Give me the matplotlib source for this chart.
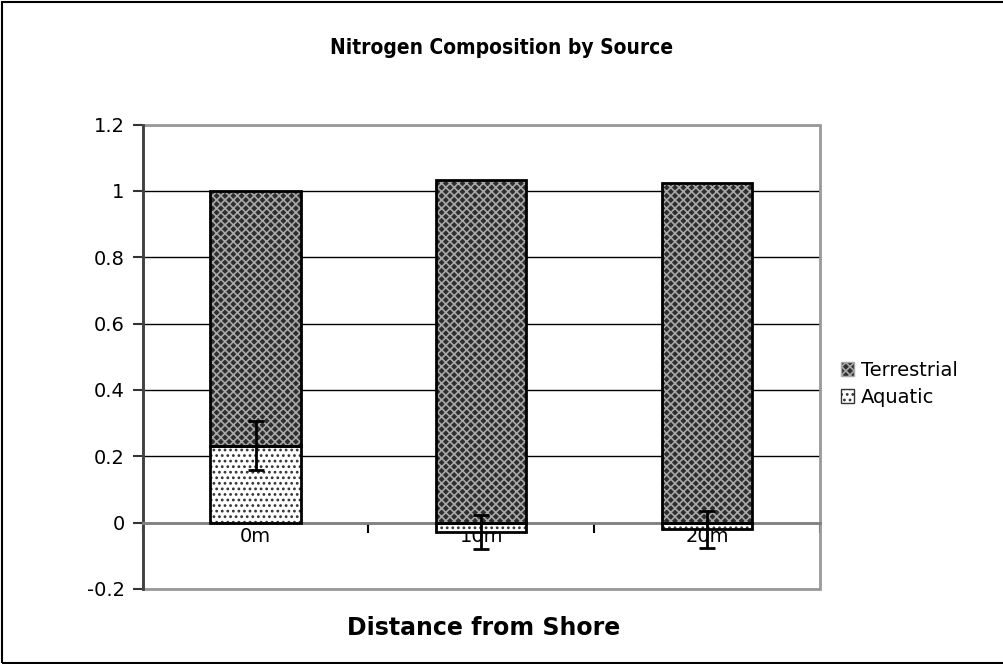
import numpy as np
import matplotlib.pyplot as plt
from matplotlib.patches import Rectangle, Patch

# datos
distancias = ["0m", "10m", "20m"]
acuatico = [0.232, -0.028, -0.02]
terrestre = [0.768, 1.033, 1.024]
error_acuatico = [0.074, 0.052, 0.056]

plt.rcParams['font.family'] = ['DejaVu Sans']
plt.rcParams['hatch.linewidth'] = 1.2

fig = plt.figure(figsize=(10.04, 6.64), dpi=100)
ax = fig.add_axes([0.1421, 0.1130, 0.6746, 0.6993])

x = np.arange(len(distancias))
ancho = 0.4

color_terr = "#2e2e2e"
trama_terr = "#a8a8a8"

# barras acuaticas (desde cero, pueden ser negativas)
ax.bar(x, acuatico, width=ancho, color="white", hatch="...", edgecolor="#333333", linewidth=0, zorder=2)
ax.bar(x, acuatico, width=ancho, fill=False, edgecolor="black", linewidth=2, zorder=3)

# barras terrestres apiladas (solo sobre la parte positiva)
base = [max(a, 0) for a in acuatico]
ax.bar(x, terrestre, width=ancho, bottom=base, color=color_terr, hatch="xxxx", edgecolor=trama_terr, linewidth=0, zorder=2)
ax.bar(x, terrestre, width=ancho, bottom=base, fill=False, edgecolor="black", linewidth=2, zorder=3)

# barras de error
ax.errorbar(x, acuatico, yerr=error_acuatico, fmt="none", ecolor="black", elinewidth=2, capsize=6, capthick=2, zorder=4)

ax.set_xlim(-0.5, 2.5)
ax.set_ylim(-0.2, 1.2)
ax.set_yticks([-0.2, 0, 0.2, 0.4, 0.6, 0.8, 1, 1.2])
ax.set_yticklabels(["-0.2", "0", "0.2", "0.4", "0.6", "0.8", "1", "1.2"])
ax.yaxis.grid(True, color="black", linewidth=1)
ax.set_axisbelow(True)

ax.set_xticks(x)
ax.set_xticklabels(distancias)
ax.set_xticks([-0.5, 0.5, 1.5, 2.5], minor=True)
ax.tick_params(axis="x", which="major", length=0, pad=3, labelsize=14)
ax.tick_params(axis="x", which="minor", length=7, width=1.5, direction="out", color="black")
ax.tick_params(axis="y", length=7, width=1.5, direction="out", color="#333333", pad=6, labelsize=14)

for lado in ["top", "right"]:
    ax.spines[lado].set_visible(False)
ax.spines["bottom"].set_position(("data", 0))
ax.spines["bottom"].set_color("#808080")
ax.spines["bottom"].set_linewidth(2)
ax.spines["left"].set_color("#404040")
ax.spines["left"].set_linewidth(2)
ax.add_patch(Rectangle((0, 0), 1, 1, transform=ax.transAxes, fill=False, edgecolor="#999999", linewidth=2, clip_on=False, zorder=1))

fig.text(0.4995, 0.927, "Nitrogen Composition by Source", ha="center", va="center", fontsize=15, fontweight="bold",
         fontstretch="condensed")
fig.text(0.482, 0.054, "Distance from Shore", ha="center", va="center", fontsize=17, fontweight="bold")

manejadores = [Patch(facecolor=color_terr, hatch="xxxx", edgecolor=trama_terr),
               Patch(facecolor="white", hatch="...", edgecolor="#333333")]
fig.legend(manejadores, ["Terrestrial", "Aquatic"], loc="upper left", bbox_to_anchor=(0.82, 0.483),
           frameon=False, fontsize=14, handlelength=0.7, handleheight=0.7, handletextpad=0.35, labelspacing=0.4)

fig.patches.append(Rectangle((0.002, 0.002), 1.1, 0.995, transform=fig.transFigure, fill=False, edgecolor="black", linewidth=1.5))

fig.savefig("out.png", dpi=100)
